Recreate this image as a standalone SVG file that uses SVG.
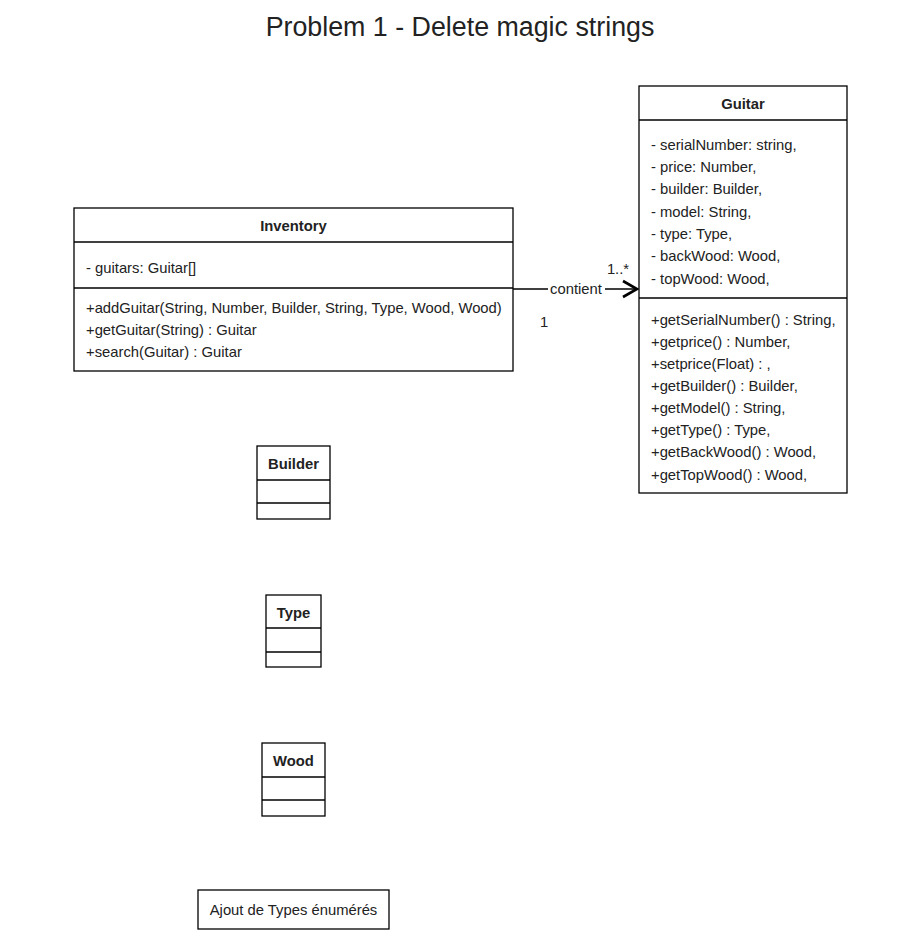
<svg xmlns="http://www.w3.org/2000/svg" width="911" height="936" viewBox="0 0 911 936">
<defs>
<style>
.box{fill:#fff;stroke:#000;stroke-width:1.3}
.ln{stroke:#000;stroke-width:1.3;fill:none}
text{font-family:"Liberation Sans",Arial,sans-serif;fill:#222;font-size:14.8px}
.b{font-weight:bold;text-anchor:middle}
.c{text-anchor:middle}
</style>
<marker id="open" viewBox="0 0 20 20" refX="17" refY="10" markerWidth="20" markerHeight="20" markerUnits="userSpaceOnUse" orient="auto">
<path d="M3,2 L17,10 L3,18" fill="none" stroke="#000" stroke-width="2.6"/>
</marker>
</defs>
<rect width="911" height="936" fill="#fff"/>
<text x="460" y="36" class="c" style="font-size:26.8px">Problem 1 - Delete magic strings</text>

<g id="connectors">
<path class="ln" d="M513,289 L637,289" marker-end="url(#open)"/>
<rect x="548" y="281" width="57" height="17" fill="#fff"/>
<text x="576" y="294" class="c">contient</text>
<text x="618" y="274" class="c">1..*</text>
<text x="544" y="327" class="c">1</text>
</g>

<g id="inventory">
<rect class="box" x="74" y="208" width="439" height="163"/>
<line class="ln" x1="74" y1="242" x2="513" y2="242"/>
<line class="ln" x1="74" y1="288" x2="513" y2="288"/>
<text x="293.5" y="231" class="b">Inventory</text>
<text x="86" y="273">- guitars: Guitar[]</text>
<text x="86" y="313">+addGuitar(String, Number, Builder, String, Type, Wood, Wood)</text>
<text x="86" y="335">+getGuitar(String) : Guitar</text>
<text x="86" y="357">+search(Guitar) : Guitar</text>
</g>

<g id="guitar">
<rect class="box" x="639" y="86" width="208" height="407"/>
<line class="ln" x1="639" y1="120" x2="847" y2="120"/>
<line class="ln" x1="639" y1="298" x2="847" y2="298"/>
<text x="743" y="109" class="b">Guitar</text>
<text x="651" y="150">- serialNumber: string,</text>
<text x="651" y="172">- price: Number,</text>
<text x="651" y="194">- builder: Builder,</text>
<text x="651" y="217">- model: String,</text>
<text x="651" y="239">- type: Type,</text>
<text x="651" y="261">- backWood: Wood,</text>
<text x="651" y="284">- topWood: Wood,</text>
<text x="651" y="325">+getSerialNumber() : String,</text>
<text x="651" y="347">+getprice() : Number,</text>
<text x="651" y="369">+setprice(Float) : ,</text>
<text x="651" y="391">+getBuilder() : Builder,</text>
<text x="651" y="413">+getModel() : String,</text>
<text x="651" y="435">+getType() : Type,</text>
<text x="651" y="457">+getBackWood() : Wood,</text>
<text x="651" y="480">+getTopWood() : Wood,</text>
</g>

<g id="builder">
<rect class="box" x="257" y="446" width="73" height="73"/>
<line class="ln" x1="257" y1="480" x2="330" y2="480"/>
<line class="ln" x1="257" y1="503" x2="330" y2="503"/>
<text x="293.5" y="469" class="b">Builder</text>
</g>

<g id="type">
<rect class="box" x="266" y="595" width="55" height="72"/>
<line class="ln" x1="266" y1="628" x2="321" y2="628"/>
<line class="ln" x1="266" y1="652" x2="321" y2="652"/>
<text x="293.5" y="618" class="b">Type</text>
</g>

<g id="wood">
<rect class="box" x="262" y="743" width="63" height="73"/>
<line class="ln" x1="262" y1="777" x2="325" y2="777"/>
<line class="ln" x1="262" y1="800" x2="325" y2="800"/>
<text x="293.5" y="766" class="b">Wood</text>
</g>

<g id="note">
<rect class="box" x="198" y="890" width="191" height="39"/>
<text x="293.5" y="915" class="c">Ajout de Types énumérés</text>
</g>
</svg>
